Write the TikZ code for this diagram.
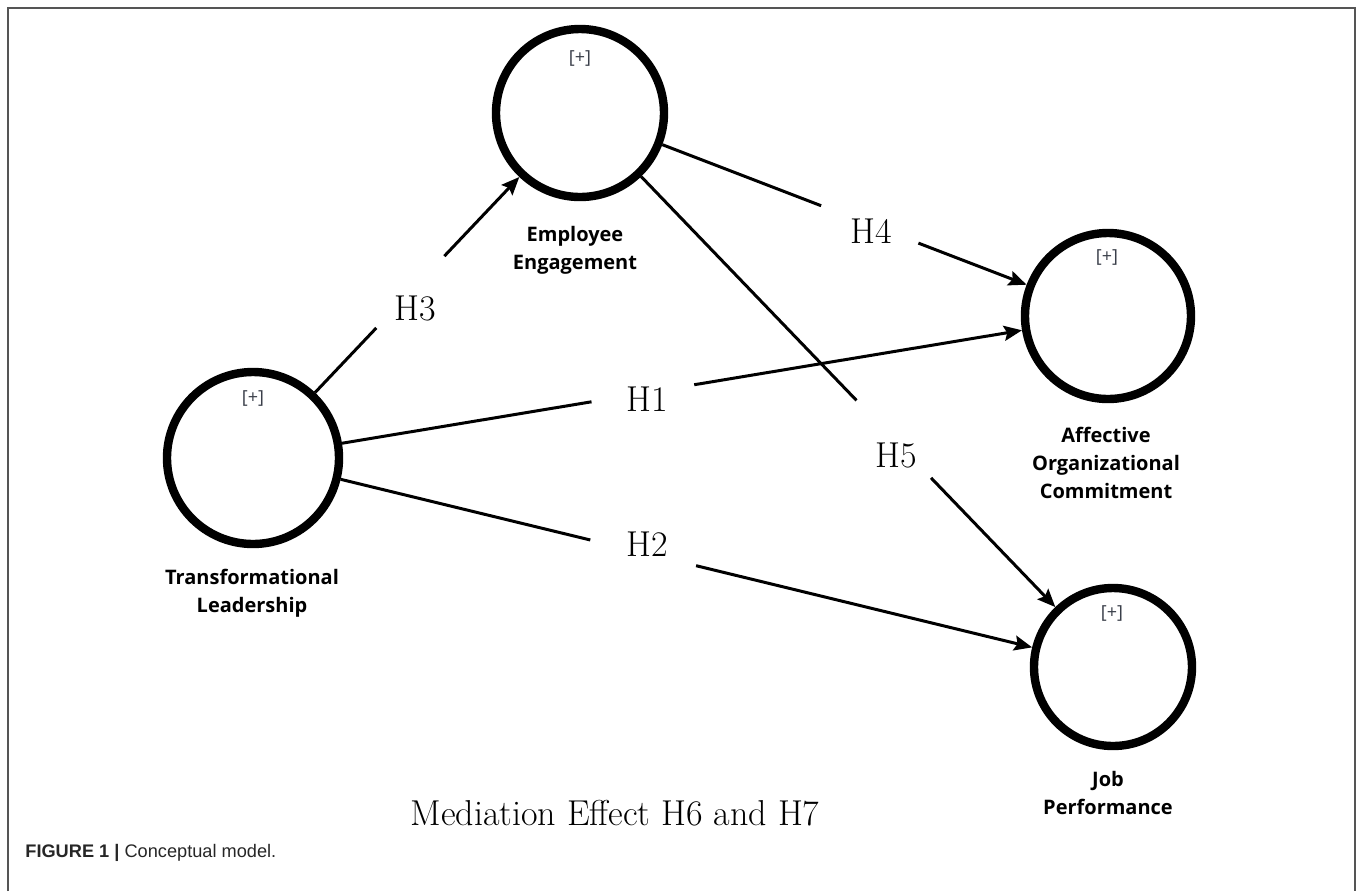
\documentclass[tikz,border=0pt]{standalone}
\usepackage{fontspec}
\newfontfamily\lblfont{Open Sans}
\newfontfamily\capfont{Liberation Sans}
\usetikzlibrary{arrows.meta}
\definecolor{framegray}{HTML}{555555}
\definecolor{plusgray}{HTML}{3A3F4A}
\begin{document}
\begin{tikzpicture}[x=0.5pt,y=-0.5pt,
  latent/.style={circle,draw=black,line width=4.2pt,inner sep=0pt,fill=white},
  conn/.style={line width=1.5pt,black},
  arr/.style={conn,-{Stealth[length=9pt,width=7.5pt,inset=1.5pt]}},
  hyp/.style={font=\fontsize{18}{22}\selectfont,inner sep=0pt},
  cname/.style={font=\lblfont\bfseries\fontsize{10}{14}\selectfont,align=center,text=black,inner sep=0pt},
  plus/.style={font=\lblfont\fontsize{9}{10}\selectfont,text=plusgray,inner sep=0pt}
]
\useasboundingbox (0,0) rectangle (1357,891);
\draw[framegray,line width=1pt] (8,891) -- (8,8) -- (1355,8) -- (1355,891);

% latent variables
\node[latent,minimum size=86pt] (TL) at (253,458) {};
\node[latent,minimum size=84pt] (EE) at (580,113) {};
\node[latent,minimum size=83pt] (AOC) at (1108,316) {};
\node[latent,minimum size=79pt] (JP) at (1113,667) {};

\node[plus] (pTL) at (253,398) {[+]};
\node[plus] (pEE) at (580,58) {[+]};
\node[plus] (pAOC) at (1107,257) {[+]};
\node[plus] (pJP) at (1112,613) {[+]};

\node[cname] (nTL) at (252,593) {Transformational\\Leadership};
\node[cname] (nEE) at (575,250) {Employee\\Engagement};
\node[cname] (nAOC) at (1106,463) {Affective\\Organizational\\Commitment};
\node[cname] (nJP) at (1108,793) {Job\\Performance};

% hypothesis labels
\node[hyp] (H3) at (415,308) {H3};
\node[hyp] (H4) at (871,231) {H4};
\node[hyp] (H1) at (647,399) {H1};
\node[hyp] (H5) at (896,455) {H5};
\node[hyp] (H2) at (647,544) {H2};
\node[hyp] (med) at (615,813) {Mediation Effect H6 and H7};

% connectors with gaps
\path (TL) -- (EE) coordinate[pos=0.30] (g3a) coordinate[pos=0.633] (g3b);
\draw[conn] (TL) -- (g3a);
\draw[arr] (g3b) -- (EE);

\path (EE) -- (AOC) coordinate[pos=0.436] (g4a) coordinate[pos=0.703] (g4b);
\draw[conn] (EE) -- (g4a);
\draw[arr] (g4b) -- (AOC);

\path (TL) -- (AOC) coordinate[pos=0.367] (g1a) coordinate[pos=0.518] (g1b);
\draw[conn] (TL) -- (g1a);
\draw[arr] (g1b) -- (AOC);

\path (TL) -- (JP) coordinate[pos=0.361] (g2a) coordinate[pos=0.514] (g2b);
\draw[conn] (TL) -- (g2a);
\draw[arr] (g2b) -- (JP);

\path (EE) -- (JP) coordinate[pos=0.52] (g5a) coordinate[pos=0.70] (g5b);
\draw[conn] (EE) -- (g5a);
\draw[arr] (g5b) -- (JP);

% caption
\node[anchor=west,font=\capfont\fontsize{9.1}{10}\selectfont,text=black!85,inner sep=0pt] (cap) at (25,853) {\textbf{FIGURE 1 |} Conceptual model.};
\end{tikzpicture}
\end{document}
